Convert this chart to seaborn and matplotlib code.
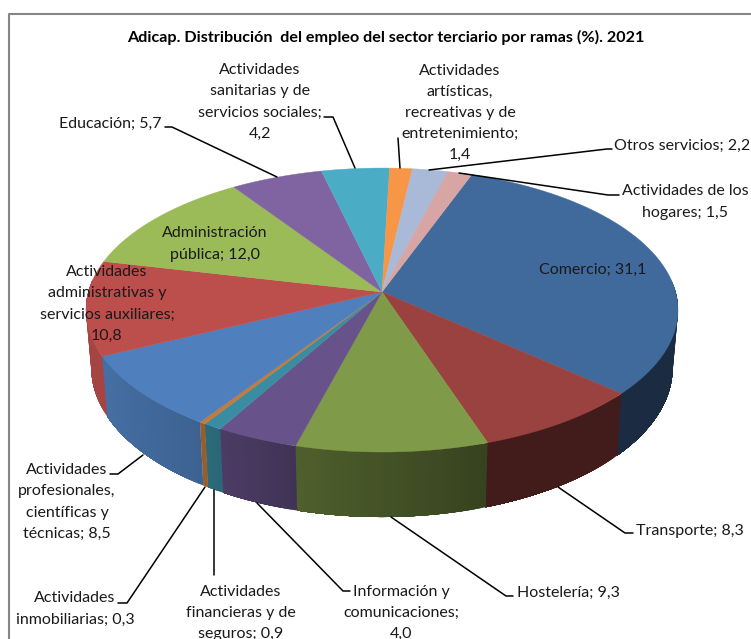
import numpy as np
import matplotlib
matplotlib.use('Agg')
import matplotlib.pyplot as plt
import seaborn as sns

# ramas en el orden del anillo (sentido horario desde Comercio)
ramas = ['Comercio', 'Transporte', 'Hostelería', 'Información y comunicaciones',
         'Actividades financieras y de seguros', 'Actividades inmobiliarias',
         'Actividades profesionales, científicas y técnicas',
         'Actividades administrativas y servicios auxiliares',
         'Administración pública', 'Educación',
         'Actividades sanitarias y de servicios sociales',
         'Actividades artísticas, recreativas y de entretenimiento',
         'Otros servicios', 'Actividades de los hogares']
valores = [31.1, 8.3, 9.3, 4.0, 0.9, 0.3, 8.5, 10.8, 12.0, 5.7, 4.2, 1.4, 2.2, 1.5]
colores = ['#40699C', '#9A4240', '#7F9A48', '#68528A', '#3A8CA3', '#C57B38', '#4F7FBC',
           '#BC4E4C', '#9BBB59', '#8064A2', '#4BACC6', '#F79646', '#A9B9D8', '#D6A5A4']

titulo = 'Adicap. Distribución  del empleo del sector terciario por ramas (%). 2021'

# texto de cada etiqueta, posicion y alineacion
etiquetas = [
    ('Comercio; 31,1', 593, 269.5, 'center'),
    ('Transporte; 8,3', 636, 531, 'left'),
    ('Hostelería; 9,3', 517, 593, 'left'),
    ('Información y\ncomunicaciones;\n4,0', 401, 613, 'center'),
    ('Actividades\nfinancieras y de\nseguros; 0,9', 241, 613, 'center'),
    ('Actividades\ninmobiliarias; 0,3', 75, 609, 'center'),
    ('Actividades\nprofesionales,\ncientíficas y\ntécnicas; 8,5', 67, 502, 'center'),
    ('Actividades\nadministrativas y\nservicios auxiliares;\n10,8', 107, 304, 'center'),
    ('Administración\npública; 12,0', 215, 244, 'center'),
    ('Educación; 5,7', 110, 123.5, 'center'),
    ('Actividades\nsanitarias y de\nservicios sociales;\n4,2', 260, 102, 'center'),
    ('Actividades\nartísticas,\nrecreativas y de\nentretenimiento;\n1,4', 460, 113, 'center'),
    ('Otros servicios; 2,2', 614, 145.5, 'left'),
    ('Actividades de los\nhogares; 1,5', 685, 202, 'center'),
]

guias = [
    [(633, 533), (625, 533), (558, 487)],
    [(513, 596), (506, 596), (391, 517)],
    [(350, 591), (343, 591), (257, 503)],
    [(214, 575), (214, 490)],
    [(118, 603), (127, 603), (205, 487)],
    [(110, 474), (118, 474), (143, 455)],
    [(165, 127), (172, 127), (277, 177)],
    [(324, 117), (333, 117), (355, 168)],
    [(398, 138), (400, 168)],
    [(612, 149), (607, 149), (429, 170)],
    [(619, 195), (608, 195), (459, 173)],
]

# geometria del disco en perspectiva
CX, CY = 382, 292
A, B, K = 293.6, 139.7, 0.127
INICIO = 20.0


def cara_superior(theta, r=1.0):
    x = r * np.sin(theta)
    y = -r * np.cos(theta)
    w = 1 - K * y
    return CX + A * x / w, CY + B * y / w


def cara_inferior(theta):
    x = np.sin(theta)
    y = -np.cos(theta)
    w = 1 - K * y
    return CX + 0.982 * A * x / w, CY + 57 + 1.05 * B * y / w


def sombra(theta_deg):
    return np.interp(theta_deg, [100, 160, 195, 215, 245, 270],
                     [0.42, 0.42, 0.62, 0.78, 0.88, 0.88])


def oscurecer(color, factor):
    return tuple(np.array(matplotlib.colors.to_rgb(color)) * factor)


sns.set_theme(style='white')
plt.rcParams['font.family'] = ['Lato', 'DejaVu Sans']

fig, ax = plt.subplots(figsize=(7.51, 6.39), dpi=100)
ax.set_position([0, 0, 1, 1])
ax.set_xlim(0, 751)
ax.set_ylim(639, 0)
ax.axis('off')

# marco del grafico
ax.plot([9, 9, 751], [639, 14, 14], color='#868686', lw=1.5, zorder=1)

cortes = INICIO + np.cumsum([0] + valores) / sum(valores) * 360

# pared lateral, en tiras solapadas para el degradado
for i, color in enumerate(colores):
    ini, fin = max(cortes[i], 85), min(cortes[i + 1], 275)
    if fin <= ini:
        continue
    pasos = np.arange(ini, fin, 1.0)
    for t0 in pasos:
        t1 = fin
        ang = np.radians(np.linspace(t0, t1, max(int(t1 - t0) * 2, 2)))
        xs, ys = cara_superior(ang)
        xi, yi = cara_inferior(ang[::-1])
        c = oscurecer(color, sombra(t0 + 0.5))
        ax.fill(np.r_[xs, xi], np.r_[ys, yi], color=c, lw=0, zorder=2)

# cara superior
for i, color in enumerate(colores):
    ang = np.radians(np.linspace(cortes[i], cortes[i + 1], 60))
    xs, ys = cara_superior(ang)
    ax.fill(np.r_[CX, xs], np.r_[CY, ys], color=color, lw=0.3, zorder=3)

for guia in guias:
    gx, gy = zip(*guia)
    ax.plot(gx, gy, color='black', lw=1.1, zorder=4)

ax.text(386, 37, titulo, ha='center', va='center', fontsize=11.6, fontweight='bold',
        color='black', zorder=5)
for texto, x, y, alinea in etiquetas:
    ax.text(x, y, texto, ha=alinea, va='center', multialignment='center', fontsize=11.5,
            linespacing=1.65, color='#1a1a1a', zorder=5)

fig.savefig('out.png', dpi=100)
